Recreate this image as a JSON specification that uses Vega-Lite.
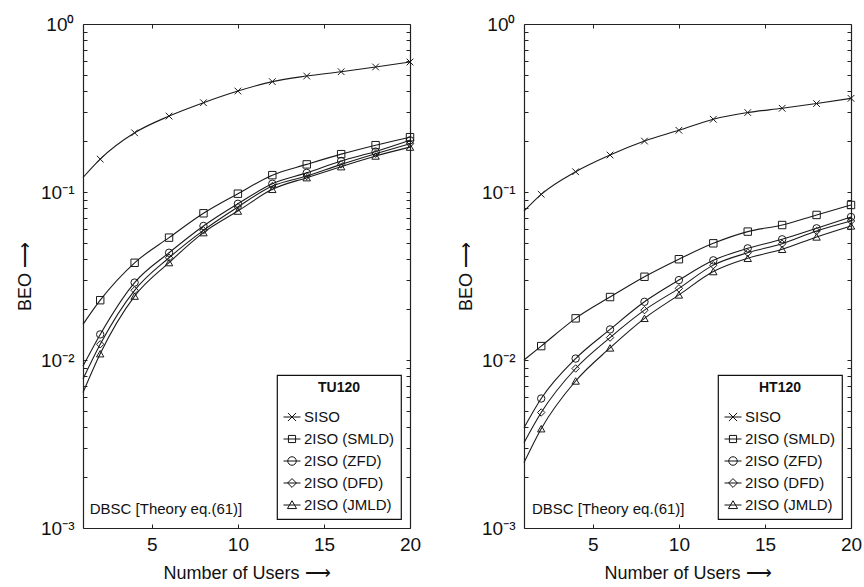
{
  "$schema": "https://vega.github.io/schema/vega-lite/v6.json",
  "background": "white",
  "padding": {"left": 16, "top": 15, "right": 5, "bottom": 5},
  "spacing": 36,
  "datasets": {
    "tu": [
      {"s": "SISO", "x": 1, "y": 0.122}, {"s": "SISO", "x": 2, "y": 0.157}, {"s": "SISO", "x": 4, "y": 0.225}, {"s": "SISO", "x": 6, "y": 0.283}, {"s": "SISO", "x": 8, "y": 0.340}, {"s": "SISO", "x": 10, "y": 0.399}, {"s": "SISO", "x": 12, "y": 0.454}, {"s": "SISO", "x": 14, "y": 0.490}, {"s": "SISO", "x": 16, "y": 0.520}, {"s": "SISO", "x": 18, "y": 0.555}, {"s": "SISO", "x": 20, "y": 0.594},
      {"s": "2ISO (SMLD)", "x": 1, "y": 0.0163}, {"s": "2ISO (SMLD)", "x": 2, "y": 0.0227}, {"s": "2ISO (SMLD)", "x": 4, "y": 0.0379}, {"s": "2ISO (SMLD)", "x": 6, "y": 0.0535}, {"s": "2ISO (SMLD)", "x": 8, "y": 0.0747}, {"s": "2ISO (SMLD)", "x": 10, "y": 0.0977}, {"s": "2ISO (SMLD)", "x": 12, "y": 0.126}, {"s": "2ISO (SMLD)", "x": 14, "y": 0.146}, {"s": "2ISO (SMLD)", "x": 16, "y": 0.168}, {"s": "2ISO (SMLD)", "x": 18, "y": 0.190}, {"s": "2ISO (SMLD)", "x": 20, "y": 0.212},
      {"s": "2ISO (ZFD)", "x": 1, "y": 0.0092}, {"s": "2ISO (ZFD)", "x": 2, "y": 0.0142}, {"s": "2ISO (ZFD)", "x": 4, "y": 0.0289}, {"s": "2ISO (ZFD)", "x": 6, "y": 0.0435}, {"s": "2ISO (ZFD)", "x": 8, "y": 0.0628}, {"s": "2ISO (ZFD)", "x": 10, "y": 0.0851}, {"s": "2ISO (ZFD)", "x": 12, "y": 0.112}, {"s": "2ISO (ZFD)", "x": 14, "y": 0.130}, {"s": "2ISO (ZFD)", "x": 16, "y": 0.153}, {"s": "2ISO (ZFD)", "x": 18, "y": 0.174}, {"s": "2ISO (ZFD)", "x": 20, "y": 0.203},
      {"s": "2ISO (DFD)", "x": 1, "y": 0.0077}, {"s": "2ISO (DFD)", "x": 2, "y": 0.0124}, {"s": "2ISO (DFD)", "x": 4, "y": 0.026}, {"s": "2ISO (DFD)", "x": 6, "y": 0.0406}, {"s": "2ISO (DFD)", "x": 8, "y": 0.0591}, {"s": "2ISO (DFD)", "x": 10, "y": 0.0814}, {"s": "2ISO (DFD)", "x": 12, "y": 0.1085}, {"s": "2ISO (DFD)", "x": 14, "y": 0.1245}, {"s": "2ISO (DFD)", "x": 16, "y": 0.146}, {"s": "2ISO (DFD)", "x": 18, "y": 0.169}, {"s": "2ISO (DFD)", "x": 20, "y": 0.194},
      {"s": "2ISO (JMLD)", "x": 1, "y": 0.0064}, {"s": "2ISO (JMLD)", "x": 2, "y": 0.0109}, {"s": "2ISO (JMLD)", "x": 4, "y": 0.024}, {"s": "2ISO (JMLD)", "x": 6, "y": 0.038}, {"s": "2ISO (JMLD)", "x": 8, "y": 0.0573}, {"s": "2ISO (JMLD)", "x": 10, "y": 0.077}, {"s": "2ISO (JMLD)", "x": 12, "y": 0.1037}, {"s": "2ISO (JMLD)", "x": 14, "y": 0.1217}, {"s": "2ISO (JMLD)", "x": 16, "y": 0.1415}, {"s": "2ISO (JMLD)", "x": 18, "y": 0.1638}, {"s": "2ISO (JMLD)", "x": 20, "y": 0.185}
    ],
    "ht": [
      {"s": "SISO", "x": 1, "y": 0.077}, {"s": "SISO", "x": 2, "y": 0.0969}, {"s": "SISO", "x": 4, "y": 0.132}, {"s": "SISO", "x": 6, "y": 0.166}, {"s": "SISO", "x": 8, "y": 0.201}, {"s": "SISO", "x": 10, "y": 0.233}, {"s": "SISO", "x": 12, "y": 0.271}, {"s": "SISO", "x": 14, "y": 0.297}, {"s": "SISO", "x": 16, "y": 0.315}, {"s": "SISO", "x": 18, "y": 0.336}, {"s": "SISO", "x": 20, "y": 0.361},
      {"s": "2ISO (SMLD)", "x": 1, "y": 0.0100}, {"s": "2ISO (SMLD)", "x": 2, "y": 0.0121}, {"s": "2ISO (SMLD)", "x": 4, "y": 0.0177}, {"s": "2ISO (SMLD)", "x": 6, "y": 0.0237}, {"s": "2ISO (SMLD)", "x": 8, "y": 0.0313}, {"s": "2ISO (SMLD)", "x": 10, "y": 0.0398}, {"s": "2ISO (SMLD)", "x": 12, "y": 0.0495}, {"s": "2ISO (SMLD)", "x": 14, "y": 0.0581}, {"s": "2ISO (SMLD)", "x": 16, "y": 0.0636}, {"s": "2ISO (SMLD)", "x": 18, "y": 0.073}, {"s": "2ISO (SMLD)", "x": 20, "y": 0.0837},
      {"s": "2ISO (ZFD)", "x": 1, "y": 0.00395}, {"s": "2ISO (ZFD)", "x": 2, "y": 0.0059}, {"s": "2ISO (ZFD)", "x": 4, "y": 0.0102}, {"s": "2ISO (ZFD)", "x": 6, "y": 0.0152}, {"s": "2ISO (ZFD)", "x": 8, "y": 0.0222}, {"s": "2ISO (ZFD)", "x": 10, "y": 0.0299}, {"s": "2ISO (ZFD)", "x": 12, "y": 0.0392}, {"s": "2ISO (ZFD)", "x": 14, "y": 0.0462}, {"s": "2ISO (ZFD)", "x": 16, "y": 0.0523}, {"s": "2ISO (ZFD)", "x": 18, "y": 0.0608}, {"s": "2ISO (ZFD)", "x": 20, "y": 0.071},
      {"s": "2ISO (DFD)", "x": 1, "y": 0.00322}, {"s": "2ISO (DFD)", "x": 2, "y": 0.00487}, {"s": "2ISO (DFD)", "x": 4, "y": 0.0089}, {"s": "2ISO (DFD)", "x": 6, "y": 0.0136}, {"s": "2ISO (DFD)", "x": 8, "y": 0.0198}, {"s": "2ISO (DFD)", "x": 10, "y": 0.0267}, {"s": "2ISO (DFD)", "x": 12, "y": 0.0367}, {"s": "2ISO (DFD)", "x": 14, "y": 0.0435}, {"s": "2ISO (DFD)", "x": 16, "y": 0.0492}, {"s": "2ISO (DFD)", "x": 18, "y": 0.0586}, {"s": "2ISO (DFD)", "x": 20, "y": 0.0672},
      {"s": "2ISO (JMLD)", "x": 1, "y": 0.00245}, {"s": "2ISO (JMLD)", "x": 2, "y": 0.0039}, {"s": "2ISO (JMLD)", "x": 4, "y": 0.0075}, {"s": "2ISO (JMLD)", "x": 6, "y": 0.0118}, {"s": "2ISO (JMLD)", "x": 8, "y": 0.0177}, {"s": "2ISO (JMLD)", "x": 10, "y": 0.0244}, {"s": "2ISO (JMLD)", "x": 12, "y": 0.0336}, {"s": "2ISO (JMLD)", "x": 14, "y": 0.0403}, {"s": "2ISO (JMLD)", "x": 16, "y": 0.0456}, {"s": "2ISO (JMLD)", "x": 18, "y": 0.054}, {"s": "2ISO (JMLD)", "x": 20, "y": 0.0628}
    ],
    "note": [{"t": "DBSC [Theory eq.(61)]"}]
  },
  "hconcat": [
    {
      "width": 327, "height": 504,
      "layer": [
        {
          "data": {"name": "tu"},
          "mark": {"type": "line", "interpolate": "monotone", "color": "#1a1a1a", "strokeWidth": 1.1},
          "encoding": {
            "x": {"field": "x", "type": "quantitative", "scale": {"domain": [1, 20], "nice": false, "zero": false},
                  "axis": {"orient": "bottom", "values": [5, 10, 15, 20], "title": "Number of Users ⟶", "labelPadding": 11, "labelFlush": false, "titlePadding": 10}},
            "y": {"field": "y", "type": "quantitative", "scale": {"type": "log", "domain": [0.001, 1], "nice": false},
                  "axis": {"orient": "left", "title": "BEO ⟶", "labelOverlap": false, "labelPadding": 13, "titlePadding": 6,
                           "values": [0.001, 0.002, 0.003, 0.004, 0.005, 0.006, 0.007, 0.008, 0.009, 0.01, 0.02, 0.03, 0.04, 0.05, 0.06, 0.07, 0.08, 0.09, 0.1, 0.2, 0.3, 0.4, 0.5, 0.6, 0.7, 0.8, 0.9, 1],
                           "labelExpr": "abs(datum.value - 1) < 1e-9 ? '10⁰' : abs(datum.value - 0.1) < 1e-9 ? '10⁻¹' : abs(datum.value - 0.01) < 1e-9 ? '10⁻²' : abs(datum.value - 0.001) < 1e-9 ? '10⁻³' : ''"}},
            "detail": {"field": "s"}
          }
        },
        {
          "data": {"name": "tu"},
          "transform": [{"filter": "datum.x > 1"}],
          "mark": {"type": "point", "filled": false, "stroke": "#1a1a1a", "strokeWidth": 1, "size": 55, "opacity": 1},
          "encoding": {
            "x": {"field": "x", "type": "quantitative", "axis": {"orient": "top", "values": [5, 10, 15], "labels": false, "title": null}},
            "y": {"field": "y", "type": "quantitative", "axis": {"orient": "right", "labels": false, "title": null,
                  "values": [0.001, 0.002, 0.003, 0.004, 0.005, 0.006, 0.007, 0.008, 0.009, 0.01, 0.02, 0.03, 0.04, 0.05, 0.06, 0.07, 0.08, 0.09, 0.1, 0.2, 0.3, 0.4, 0.5, 0.6, 0.7, 0.8, 0.9, 1]}},
            "shape": {"field": "s", "type": "nominal",
                      "scale": {"domain": ["SISO", "2ISO (SMLD)", "2ISO (ZFD)", "2ISO (DFD)", "2ISO (JMLD)"],
                                "range": ["M-0.9,-0.9L0.9,0.9M-0.9,0.9L0.9,-0.9", "square", "circle", "diamond", "triangle-up"]},
                      "legend": null}
          }
        },
        {
          "data": {"name": "tu"},
          "transform": [{"filter": "datum.x < 0"}],
          "mark": {"type": "point", "filled": false, "stroke": "#1a1a1a", "strokeWidth": 1, "size": 289, "opacity": 1},
          "encoding": {
            "x": {"field": "x", "type": "quantitative", "axis": null},
            "y": {"field": "y", "type": "quantitative", "axis": null},
            "shape": {"field": "s", "type": "nominal",
                      "scale": {"domain": ["SISO", "2ISO (SMLD)", "2ISO (ZFD)", "2ISO (DFD)", "2ISO (JMLD)"],
                                "range": ["M-1,0H1M-0.48,-0.48L0.48,0.48M-0.48,0.48L0.48,-0.48", "M-1,0H1M-0.42,-0.42H0.42V0.42H-0.42Z", "M-1,0H1M0.5,0A0.5,0.5 0 1,1 -0.5,0A0.5,0.5 0 1,1 0.5,0", "M-1,0H1M0,-0.52L0.52,0L0,0.52L-0.52,0Z", "M-1,0H1M0,-0.5L0.54,0.42H-0.54Z"]},
                      "legend": {"title": "TU120", "orient": "bottom-right", "offset": 9}}
          }
        },
        {
          "data": {"name": "note"},
          "mark": {"type": "text", "align": "left", "baseline": "middle", "fontSize": 15, "font": "Liberation Sans", "color": "#111"},
          "encoding": {
            "text": {"field": "t"},
            "x": {"datum": 1.39, "type": "quantitative", "axis": null},
            "y": {"datum": 0.0013, "type": "quantitative", "axis": null}
          }
        }
      ],
      "resolve": {"axis": {"x": "independent", "y": "independent"}, "scale": {"shape": "independent"}}
    },
    {
      "width": 327, "height": 504,
      "layer": [
        {
          "data": {"name": "ht"},
          "mark": {"type": "line", "interpolate": "monotone", "color": "#1a1a1a", "strokeWidth": 1.1},
          "encoding": {
            "x": {"field": "x", "type": "quantitative", "scale": {"domain": [1, 20], "nice": false, "zero": false},
                  "axis": {"orient": "bottom", "values": [5, 10, 15, 20], "title": "Number of Users ⟶", "labelPadding": 11, "labelFlush": false, "titlePadding": 10}},
            "y": {"field": "y", "type": "quantitative", "scale": {"type": "log", "domain": [0.001, 1], "nice": false},
                  "axis": {"orient": "left", "title": "BEO ⟶", "labelOverlap": false, "labelPadding": 13, "titlePadding": 6,
                           "values": [0.001, 0.002, 0.003, 0.004, 0.005, 0.006, 0.007, 0.008, 0.009, 0.01, 0.02, 0.03, 0.04, 0.05, 0.06, 0.07, 0.08, 0.09, 0.1, 0.2, 0.3, 0.4, 0.5, 0.6, 0.7, 0.8, 0.9, 1],
                           "labelExpr": "abs(datum.value - 1) < 1e-9 ? '10⁰' : abs(datum.value - 0.1) < 1e-9 ? '10⁻¹' : abs(datum.value - 0.01) < 1e-9 ? '10⁻²' : abs(datum.value - 0.001) < 1e-9 ? '10⁻³' : ''"}},
            "detail": {"field": "s"}
          }
        },
        {
          "data": {"name": "ht"},
          "transform": [{"filter": "datum.x > 1"}],
          "mark": {"type": "point", "filled": false, "stroke": "#1a1a1a", "strokeWidth": 1, "size": 55, "opacity": 1},
          "encoding": {
            "x": {"field": "x", "type": "quantitative", "axis": {"orient": "top", "values": [5, 10, 15], "labels": false, "title": null}},
            "y": {"field": "y", "type": "quantitative", "axis": {"orient": "right", "labels": false, "title": null,
                  "values": [0.001, 0.002, 0.003, 0.004, 0.005, 0.006, 0.007, 0.008, 0.009, 0.01, 0.02, 0.03, 0.04, 0.05, 0.06, 0.07, 0.08, 0.09, 0.1, 0.2, 0.3, 0.4, 0.5, 0.6, 0.7, 0.8, 0.9, 1]}},
            "shape": {"field": "s", "type": "nominal",
                      "scale": {"domain": ["SISO", "2ISO (SMLD)", "2ISO (ZFD)", "2ISO (DFD)", "2ISO (JMLD)"],
                                "range": ["M-0.9,-0.9L0.9,0.9M-0.9,0.9L0.9,-0.9", "square", "circle", "diamond", "triangle-up"]},
                      "legend": null}
          }
        },
        {
          "data": {"name": "ht"},
          "transform": [{"filter": "datum.x < 0"}],
          "mark": {"type": "point", "filled": false, "stroke": "#1a1a1a", "strokeWidth": 1, "size": 289, "opacity": 1},
          "encoding": {
            "x": {"field": "x", "type": "quantitative", "axis": null},
            "y": {"field": "y", "type": "quantitative", "axis": null},
            "shape": {"field": "s", "type": "nominal",
                      "scale": {"domain": ["SISO", "2ISO (SMLD)", "2ISO (ZFD)", "2ISO (DFD)", "2ISO (JMLD)"],
                                "range": ["M-1,0H1M-0.48,-0.48L0.48,0.48M-0.48,0.48L0.48,-0.48", "M-1,0H1M-0.42,-0.42H0.42V0.42H-0.42Z", "M-1,0H1M0.5,0A0.5,0.5 0 1,1 -0.5,0A0.5,0.5 0 1,1 0.5,0", "M-1,0H1M0,-0.52L0.52,0L0,0.52L-0.52,0Z", "M-1,0H1M0,-0.5L0.54,0.42H-0.54Z"]},
                      "legend": {"title": "HT120", "orient": "bottom-right", "offset": 9}}
          }
        },
        {
          "data": {"name": "note"},
          "mark": {"type": "text", "align": "left", "baseline": "middle", "fontSize": 15, "font": "Liberation Sans", "color": "#111"},
          "encoding": {
            "text": {"field": "t"},
            "x": {"datum": 1.46, "type": "quantitative", "axis": null},
            "y": {"datum": 0.0013, "type": "quantitative", "axis": null}
          }
        }
      ],
      "resolve": {"axis": {"x": "independent", "y": "independent"}, "scale": {"shape": "independent"}}
    }
  ],
  "resolve": {"scale": {"shape": "independent"}, "legend": {"shape": "independent"}},
  "config": {
    "font": "Liberation Sans",
    "view": {"stroke": null},
    "axis": {
      "grid": false, "labelFont": "Liberation Sans", "labelFontSize": 19, "labelColor": "#111",
      "titleFont": "Liberation Sans", "titleFontSize": 18, "titleFontWeight": "normal", "titleColor": "#111",
      "domainColor": "#222", "domainWidth": 1.2, "tickColor": "#222", "tickSize": -4, "tickWidth": 1
    },
    "legend": {
      "strokeColor": "#111", "strokeWidth": 1.2, "fillColor": "white", "padding": 6, "cornerRadius": 0,
      "titleAnchor": "middle", "titleFont": "Liberation Sans", "titleFontSize": 14, "titleFontWeight": "bold", "titleColor": "#111", "titlePadding": 13,
      "labelFont": "Liberation Sans", "labelFontSize": 15, "labelColor": "#111", "labelOffset": 3,
      "symbolSize": 289, "symbolStrokeColor": "#111", "symbolFillColor": "transparent", "symbolStrokeWidth": 1, "symbolOpacity": 1, "rowPadding": 5
    }
  }
}
